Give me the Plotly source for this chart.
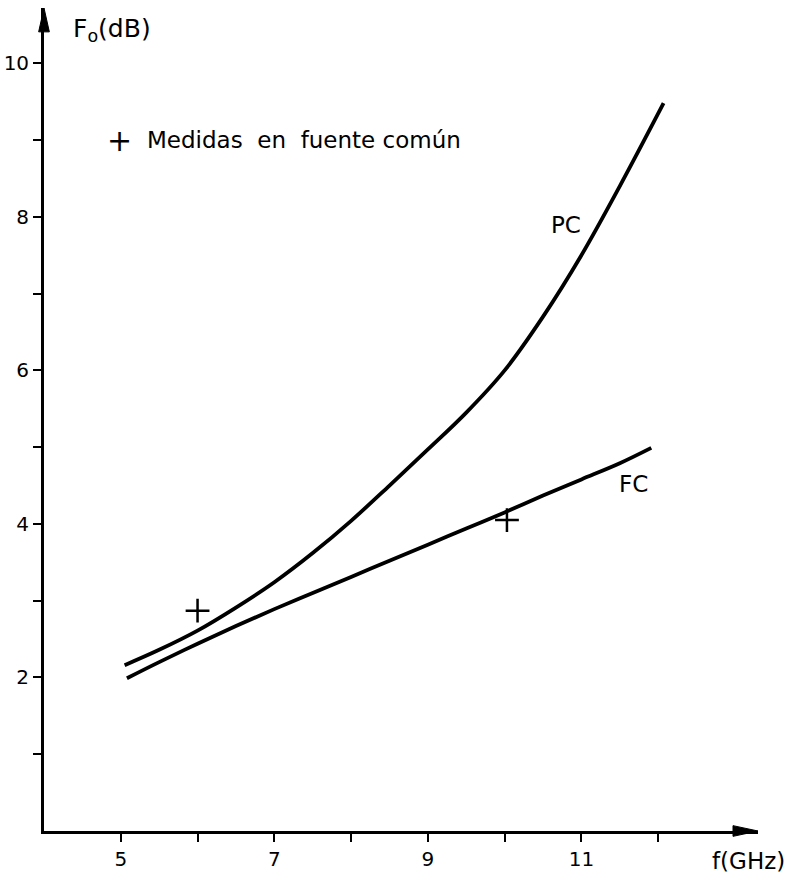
import plotly.graph_objects as go

# Data
pc_f = [5.05, 5.5, 6.0, 6.5, 7.0, 7.5, 8.0, 8.5, 9.0, 9.5, 10.0, 10.5, 11.0, 11.5, 12.07]
pc_fo = [2.16, 2.36, 2.61, 2.91, 3.24, 3.62, 4.04, 4.50, 4.97, 5.45, 6.00, 6.70, 7.50, 8.40, 9.48]

fc_f = [5.08, 5.5, 6.0, 6.5, 7.0, 7.5, 8.0, 8.5, 9.0, 9.5, 10.0, 10.5, 11.0, 11.5, 11.91]
fc_fo = [1.99, 2.20, 2.44, 2.67, 2.89, 3.10, 3.31, 3.52, 3.73, 3.94, 4.15, 4.37, 4.58, 4.79, 4.99]

meas_f = [6.0, 10.03]
meas_fo = [2.87, 4.05]

x_major = [5, 7, 9, 11]
x_major_text = ["5", "7", "9", "11"]
x_minor = [6, 8, 10, 12]
y_major = [2, 4, 6, 8, 10]
y_major_text = ["2", "4", "6", "8", "10"]
y_minor = [1, 3, 5, 7, 9]

X_RANGE = [4.0, 13.3]
Y_RANGE = [0.0, 10.72]

FONT = "DejaVu Sans"

fig = go.Figure()
fig.add_trace(go.Scatter(x=pc_f, y=pc_fo, mode="lines",
                         line=dict(color="black", width=3.8, shape="spline", smoothing=1.0),
                         showlegend=False, hoverinfo="skip"))
fig.add_trace(go.Scatter(x=fc_f, y=fc_fo, mode="lines",
                         line=dict(color="black", width=3.8, shape="spline", smoothing=1.0),
                         showlegend=False, hoverinfo="skip"))
fig.add_trace(go.Scatter(x=meas_f, y=meas_fo, mode="markers",
                         marker=dict(symbol="cross-thin", size=17, line=dict(color="black", width=2.5)),
                         showlegend=False, hoverinfo="skip"))

axis_common = dict(showgrid=False, zeroline=False, showline=True, linecolor="black", linewidth=2.8,
                   ticks="outside", ticklen=8, tickwidth=2, tickcolor="black", automargin=False,
                   tickfont=dict(family=FONT, size=20, color="black"))

fig.update_xaxes(range=X_RANGE, tickmode="array", tickvals=x_major, ticktext=x_major_text,
                 minor=dict(tickmode="array", tickvals=x_minor, ticks="outside", ticklen=8,
                            tickwidth=2, tickcolor="black", showgrid=False),
                 **axis_common)
fig.update_yaxes(range=Y_RANGE, tickmode="array", tickvals=y_major, ticktext=y_major_text,
                 minor=dict(tickmode="array", tickvals=y_minor, ticks="outside", ticklen=8,
                            tickwidth=2, tickcolor="black", showgrid=False),
                 **axis_common)

# Axis arrowheads (paper coordinates, so they are not clipped by the plot area)
fig.add_shape(type="path", xref="paper", yref="paper", layer="above",
              path="M 1.0,0.0 L 0.965,0.0065 L 0.965,-0.0065 Z",
              fillcolor="black", line=dict(color="black", width=1))
fig.add_shape(type="path", xref="paper", yref="paper", layer="above",
              path="M 0.0,1.0 L -0.0075,0.971 L 0.0075,0.971 Z",
              fillcolor="black", line=dict(color="black", width=1))

# Axis titles
fig.add_annotation(x=0.038, y=0.995, xref="paper", yref="paper", text="F<sub>o</sub>(dB)", showarrow=False,
                   xanchor="left", yanchor="top", font=dict(family=FONT, size=25, color="black"))
fig.add_annotation(x=1.04, y=-0.018, xref="paper", yref="paper", text="f(GHz)", showarrow=False,
                   xanchor="right", yanchor="top", font=dict(family=FONT, size=23, color="black"))

# Curve labels
fig.add_annotation(x=10.8, y=7.9, xref="x", yref="y", text="PC", showarrow=False,
                   font=dict(family=FONT, size=23, color="black"))
fig.add_annotation(x=11.68, y=4.52, xref="x", yref="y", text="FC", showarrow=False,
                   font=dict(family=FONT, size=23, color="black"))

# Legend text
fig.add_annotation(x=4.98, y=9.0, xref="x", yref="y", text="+", showarrow=False,
                   xanchor="center", font=dict(family=FONT, size=30, color="black"))
fig.add_annotation(x=5.32, y=9.0, xref="x", yref="y", text="Medidas  en  fuente común", showarrow=False,
                   xanchor="left", font=dict(family=FONT, size=23, color="black"))

fig.update_layout(width=794, height=875, margin=dict(l=44, r=36, t=8, b=44),
                  plot_bgcolor="white", paper_bgcolor="white")

# Remove the default page-body margin so the figure fills the window from its top-left corner.
fig.write_html("out.html", config={"displayModeBar": False},
               post_script="document.body.style.margin='0px';")
